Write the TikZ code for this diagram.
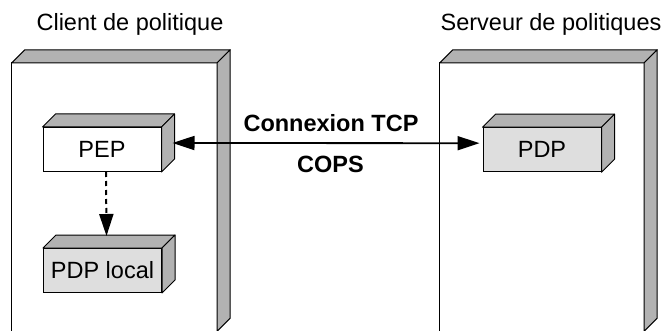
\documentclass[tikz,border=0pt]{standalone}
\usepackage{fontspec}
\setmainfont{Liberation Sans}
\usetikzlibrary{arrows.meta, calc, positioning}
\definecolor{facegray}{gray}{0.70}
\definecolor{frontgray}{gray}{0.87}
\newcommand{\sidefaces}[1]{%
  \filldraw[face] (#1.north west) -- ++(13,-13) -- ($(#1.north east)+(13,-13)$) -- (#1.north east) -- cycle;
  \filldraw[face] (#1.north east) -- ++(13,-13) -- ($(#1.south east)+(13,-13)$) -- (#1.south east) -- cycle;}

\begin{document}
\begin{tikzpicture}[x=1pt, y=-1pt, >={Triangle[length=22pt, width=14pt]},
    every node/.style={font=\fontsize{23.5}{28}\selectfont},
    face/.style={draw, fill=facegray, line width=1pt, line join=round},
    panel/.style={fill=white, inner sep=0pt, minimum width=205pt, minimum height=268pt},
    box/.style={draw, fill=white, line width=1pt, inner sep=0pt, minimum width=118pt, minimum height=44pt},
    conn/.style={<->, line width=1.8pt}]
    \useasboundingbox (0,0) rectangle (663,331);

    \node[anchor=base] (tclient) at (130,31) {Client de politique};
    \node[anchor=base] (tserver) at (551,31) {Serveur de politiques};

    \node[panel] (client) at (114.5,197) {};
    \node[panel, minimum width=204pt] (server) at (542,197) {};
    \draw[line width=1pt] (client.south west) -- (client.north west) -- (client.north east) -- (client.south east);
    \draw[line width=1pt] (server.south west) -- (server.north west) -- (server.north east) -- (server.south east);
    \sidefaces{client}
    \sidefaces{server}

    \node[box] (pep) at (102,149.5) {PEP};
    \node[box, fill=frontgray] (pdpl) at (102.5,270.5) {PDP local};
    \node[box, fill=frontgray] (pdp) at (542,149.7) {PDP};
    \sidefaces{pep}
    \sidefaces{pdpl}
    \sidefaces{pdp}

    \draw[conn] ($(pep.east)+(11,-6.5)$) -- ($(pdp.west)+(-3,-6.5)$);
    \draw[->, line width=2pt, dash pattern=on 5pt off 4pt] ($(pep.south)+(4,0)$) -- ($(pdpl.north)+(4,-12)$);

    \node[anchor=base, font=\fontsize{23.5}{28}\selectfont\bfseries] (tcp) at (331,131.5) {Connexion TCP};
    \node[anchor=base, font=\fontsize{23.5}{28}\selectfont\bfseries] (cops) at (330.5,172.5) {COPS};
\end{tikzpicture}
\end{document}
